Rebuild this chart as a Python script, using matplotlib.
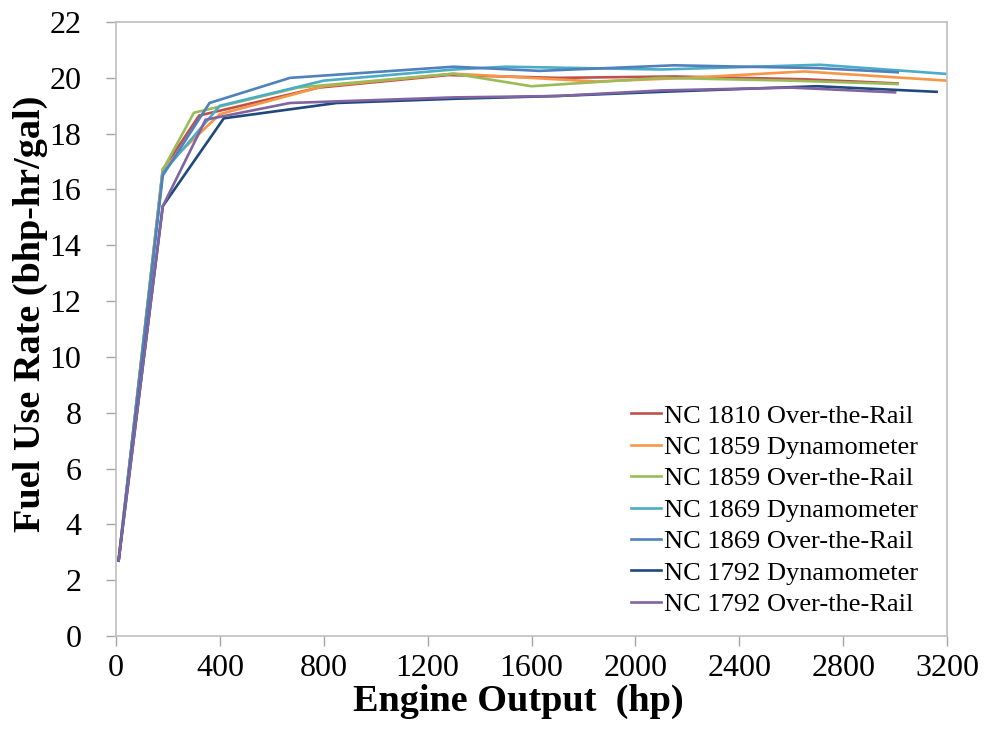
import matplotlib
matplotlib.use("Agg")
import matplotlib.pyplot as plt

series_names = [
    "NC 1810 Over-the-Rail",
    "NC 1859 Dynamometer",
    "NC 1859 Over-the-Rail",
    "NC 1869 Dynamometer",
    "NC 1869 Over-the-Rail",
    "NC 1792 Dynamometer",
    "NC 1792 Over-the-Rail",
]
colors = ["#C0504D", "#F79646", "#9BBB59", "#4BACC6", "#4F81BD", "#1F497D", "#8064A2"]

x_1810_otr = [10, 180, 320, 780, 1280, 1700, 2150, 2650, 3010]
y_1810_otr = [2.7, 16.7, 18.65, 19.65, 20.1, 20.0, 20.05, 19.95, 19.8]

x_1859_dyn = [10, 180, 400, 800, 1300, 1850, 2200, 2650, 3200]
y_1859_dyn = [2.7, 16.75, 18.7, 19.7, 20.15, 19.87, 20.0, 20.23, 19.9]

x_1859_otr = [10, 180, 300, 700, 1300, 1600, 2100, 2600, 3010]
y_1859_otr = [2.7, 16.7, 18.75, 19.65, 20.15, 19.7, 20.0, 19.9, 19.78]

x_1869_dyn = [10, 180, 400, 800, 1300, 1500, 2100, 2710, 3200]
y_1869_dyn = [2.7, 16.6, 19.0, 19.9, 20.3, 20.4, 20.3, 20.47, 20.14]

x_1869_otr = [10, 180, 360, 670, 1300, 1630, 2150, 2700, 3010]
y_1869_otr = [2.7, 16.5, 19.1, 20.0, 20.4, 20.25, 20.45, 20.35, 20.2]

x_1792_dyn = [10, 180, 415, 850, 1300, 1700, 2100, 2700, 3160]
y_1792_dyn = [2.7, 15.4, 18.55, 19.1, 19.25, 19.35, 19.5, 19.7, 19.5]

x_1792_otr = [10, 180, 345, 670, 1300, 1700, 2100, 2600, 3000]
y_1792_otr = [2.7, 15.4, 18.5, 19.1, 19.3, 19.35, 19.55, 19.65, 19.48]

xs = [x_1810_otr, x_1859_dyn, x_1859_otr, x_1869_dyn, x_1869_otr, x_1792_dyn, x_1792_otr]
ys = [y_1810_otr, y_1859_dyn, y_1859_otr, y_1869_dyn, y_1869_otr, y_1792_dyn, y_1792_otr]

x_ticks = list(range(0, 3201, 400))
y_ticks = list(range(0, 23, 2))

plt.rcParams['font.family'] = ['Liberation Serif', 'DejaVu Serif']

fig = plt.figure(figsize=(9.84, 7.35), dpi=100)
ax = fig.add_axes([0.1179, 0.1347, 0.8445, 0.8353])

for x, y, c, n in zip(xs, ys, colors, series_names):
    ax.plot(x, y, color=c, lw=1.9, label=n, solid_joinstyle='miter')

ax.set_xlim(0, 3200)
ax.set_ylim(0, 22)
ax.set_xticks(x_ticks)
ax.set_yticks(y_ticks)
ax.tick_params(axis='both', direction='out', length=7, color='#A6A6A6', labelsize=23, width=1)
ax.tick_params(axis='y', pad=18)
ax.tick_params(axis='x', pad=6)
for s in ax.spines.values():
    s.set_color('#BFBFBF')
    s.set_linewidth(1.2)

ax.set_xlabel("Engine Output  (hp)", fontsize=27.5, fontweight='bold')
ax.xaxis.set_label_coords(0.484, -0.078)
ax.set_ylabel("Fuel Use Rate (bhp-hr/gal)", fontsize=27.5, fontweight='bold')
ax.yaxis.set_label_coords(-0.082, 0.525)

leg = ax.legend(loc='lower right', frameon=False, fontsize=19, handlelength=1.14,
                handletextpad=0.12, labelspacing=0.3, borderpad=0, borderaxespad=0,
                bbox_to_anchor=(0.965, 0.0326))

fig.savefig("out.png", dpi=100)
